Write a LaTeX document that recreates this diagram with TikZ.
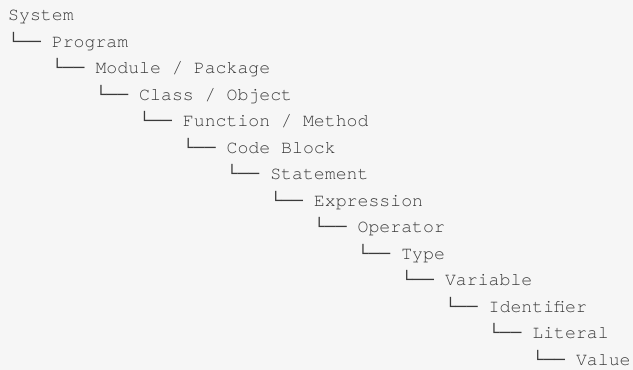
\documentclass[tikz,border=0pt]{standalone}
\usepackage{fontspec}
\newfontfamily\treefont{texgyrecursor-regular.otf}
\newfontfamily\boxfont{Liberation Mono}
\definecolor{pagebg}{HTML}{F6F6F6}
\definecolor{ink}{HTML}{3A3A3A}
\newcommand\branch{{\boxfont └──}}
\begin{document}
\begin{tikzpicture}[x=1pt,y=-1pt,
  treeline/.style={anchor=base west,inner sep=0pt,text=ink,
    font=\treefont\fontsize{18.2}{22}\selectfont}]
\fill[pagebg] (0,0) rectangle (633,370);
\useasboundingbox (0,0) rectangle (633,370);
% one line of the tree per node; each level indents by four characters
\def\lvl{43.68}
\def\row{26.5}
\node[treeline] (system)     at (8,20.7)              {System};
\node[treeline] (program)    at (8+0*\lvl,20.7+1*\row)  {\branch{} Program};
\node[treeline] (module)     at (8+1*\lvl,20.7+2*\row)  {\branch{} Module / Package};
\node[treeline] (class)      at (8+2*\lvl,20.7+3*\row)  {\branch{} Class / Object};
\node[treeline] (function)   at (8+3*\lvl,20.7+4*\row)  {\branch{} Function / Method};
\node[treeline] (codeblock)  at (8+4*\lvl,20.7+5*\row)  {\branch{} Code Block};
\node[treeline] (statement)  at (8+5*\lvl,20.7+6*\row)  {\branch{} Statement};
\node[treeline] (expression) at (8+6*\lvl,20.7+7*\row)  {\branch{} Expression};
\node[treeline] (operator)   at (8+7*\lvl,20.7+8*\row)  {\branch{} Operator};
\node[treeline] (type)       at (8+8*\lvl,20.7+9*\row)  {\branch{} Type};
\node[treeline] (variable)   at (8+9*\lvl,20.7+10*\row) {\branch{} Variable};
\node[treeline] (identifier) at (8+10*\lvl,20.7+11*\row) {\branch{} Identifier};
\node[treeline] (literal)    at (8+11*\lvl,20.7+12*\row) {\branch{} Literal};
\node[treeline] (value)      at (8+12*\lvl,20.7+13*\row) {\branch{} Value};
\end{tikzpicture}
\end{document}
